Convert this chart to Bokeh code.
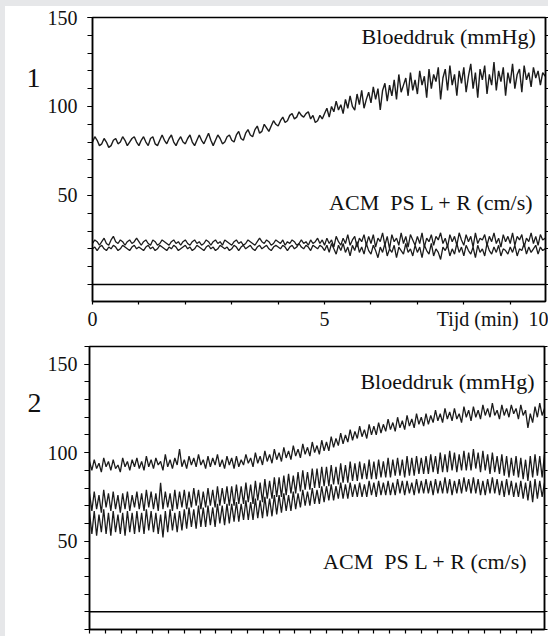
import numpy as np
from bokeh.plotting import figure
from bokeh.models import Range1d, FixedTicker, LinearAxis, Label, Span, Div
from bokeh.layouts import column, row
from bokeh.embed import file_html
from bokeh.resources import INLINE

STEP = 0.05  # minutes between samples

# ---------------- Panel 1 ----------------
bp1 = [
    80, 83, 81, 78, 79, 82, 80, 77, 78, 81, 82, 79, 80, 83, 81, 78, 80, 82, 83, 80,
    78, 81, 83, 80, 78, 82, 83, 79, 78, 81, 84, 81, 79, 82, 84, 80, 78, 81, 83, 80,
    79, 82, 84, 80, 78, 81, 84, 81, 79, 82, 85, 81, 78, 81, 84, 82, 79, 80, 83, 84,
    81, 80, 84, 86, 82, 81, 85, 87, 84, 83, 87, 89, 85, 86, 90, 88, 86, 89, 92, 90,
    89, 92, 94, 91, 92, 95, 96, 93, 94, 97, 95, 94, 96, 97, 93, 95, 91, 92, 95, 93,
    96, 99, 94, 100, 97, 103, 98, 101, 96, 104, 99, 106, 100, 98, 107, 101, 109, 99, 104, 108,
    102, 111, 104, 110, 98, 109, 113, 103, 112, 106, 115, 104, 118, 108, 112, 116, 106, 119, 109, 115,
    107, 120, 112, 117, 105, 121, 110, 118, 114, 122, 104, 116, 121, 109, 123, 112, 118, 106, 120, 113,
    122, 108, 117, 124, 110, 119, 105, 121, 115, 123, 107, 118, 112, 125, 109, 120, 114, 122, 106, 119,
    113, 124, 110, 118, 121, 108, 123, 115, 119, 111, 122, 116, 120, 112, 119, 117, 121, 118, 114, 116,
]
acm1_l = [
    23, 25, 24, 22, 24, 26, 23, 22, 25, 27, 24, 23, 25, 24, 22, 24, 25, 23, 24, 26,
    24, 22, 24, 25, 23, 22, 25, 24, 22, 23, 25, 24, 23, 22, 24, 25, 23, 24, 22, 24,
    25, 23, 22, 24, 25, 23, 24, 22, 23, 25, 24, 22, 24, 25, 23, 24, 22, 25, 24, 23,
    22, 24, 25, 23, 24, 22, 23, 25, 24, 23, 22, 24, 26, 24, 23, 25, 24, 22, 23, 25,
    24, 23, 25, 22, 24, 23, 25, 24, 22, 23, 25, 23, 24, 22, 25, 23, 24, 26, 23, 25,
    22, 26, 23, 25, 21, 27, 24, 22, 26, 23, 28, 22, 25, 27, 21, 26, 24, 28, 22, 27,
    23, 28, 21, 26, 24, 29, 22, 27, 20, 28, 24, 26, 22, 29, 23, 27, 21, 28, 25, 22,
    27, 23, 29, 21, 26, 24, 28, 22, 27, 25, 29, 23, 26, 21, 28, 24, 27, 22, 29, 25,
    22, 28, 24, 27, 21, 29, 23, 26, 25, 28, 22, 27, 24, 29, 23, 26, 21, 28, 24, 27,
    23, 29, 22, 27, 25, 28, 21, 26, 24, 29, 23, 27, 22, 28, 25, 26, 23, 28, 24, 26,
]
acm1_r = [
    20, 21, 19, 21, 22, 20, 19, 21, 20, 22, 21, 19, 20, 22, 21, 20, 19, 21, 22, 20,
    21, 20, 19, 21, 22, 20, 21, 19, 20, 22, 21, 20, 19, 21, 20, 22, 21, 19, 20, 21,
    22, 20, 21, 19, 20, 22, 21, 20, 19, 21, 22, 20, 21, 19, 20, 22, 21, 20, 21, 19,
    20, 22, 21, 19, 21, 22, 20, 21, 22, 20, 19, 21, 22, 20, 21, 22, 20, 19, 21, 22,
    21, 20, 22, 21, 19, 21, 22, 20, 21, 23, 21, 20, 22, 21, 19, 22, 21, 20, 22, 21,
    19, 22, 18, 23, 20, 17, 22, 19, 23, 18, 21, 16, 22, 19, 24, 18, 21, 17, 23, 19,
    17, 22, 19, 15, 21, 18, 23, 16, 20, 18, 22, 15, 21, 19, 17, 23, 18, 20, 16, 22,
    18, 21, 15, 22, 19, 17, 23, 16, 20, 18, 14, 21, 19, 22, 16, 20, 17, 23, 18, 21,
    16, 22, 19, 17, 21, 15, 22, 18, 20, 16, 23, 19, 17, 21, 18, 22, 16, 20, 19, 17,
    21, 18, 22, 16, 20, 19, 23, 17, 21, 18, 20, 22, 17, 21, 19, 20, 18, 22, 19, 20,
]

# ---------------- Panel 2 ----------------
bp2 = [
    95, 90, 96, 91, 94, 89, 97, 92, 95, 90, 96, 91, 93, 89, 97, 92, 95, 90, 96, 92,
    97, 91, 95, 90, 98, 92, 96, 91, 97, 93, 95, 90, 99, 92, 96, 91, 97, 93, 102, 92,
    96, 91, 98, 93, 97, 92, 99, 93, 96, 91, 98, 92, 97, 93, 99, 92, 96, 91, 98, 93,
    97, 91, 98, 92, 96, 93, 99, 94, 97, 92, 100, 94, 98, 93, 101, 95, 99, 94, 102, 96,
    100, 95, 103, 97, 101, 96, 104, 98, 102, 97, 105, 99, 103, 98, 106, 100, 104, 99, 107, 101,
    106, 101, 109, 103, 108, 104, 111, 105, 110, 106, 113, 107, 112, 108, 115, 109, 113, 108, 116, 110,
    115, 110, 117, 111, 116, 112, 119, 113, 117, 112, 120, 114, 118, 113, 121, 115, 119, 114, 122, 116,
    120, 115, 122, 116, 121, 117, 124, 118, 122, 117, 125, 119, 123, 118, 125, 119, 122, 117, 126, 120,
    124, 118, 126, 120, 124, 119, 127, 121, 125, 120, 128, 121, 124, 119, 127, 121, 125, 120, 127, 122,
    125, 119, 127, 121, 124, 114, 122, 117, 126, 120, 128, 121, 125, 119, 126, 120, 124, 118, 126, 121,
]
acm2_a = [
    77, 67, 78, 68, 76, 66, 79, 69, 77, 67, 78, 68, 76, 66, 77, 68, 78, 67, 76, 69,
    78, 68, 77, 67, 79, 69, 78, 68, 77, 67, 83, 68, 78, 69, 77, 67, 79, 68, 78, 69,
    79, 68, 78, 69, 80, 70, 79, 68, 78, 69, 80, 70, 79, 69, 81, 70, 80, 71, 81, 70,
    81, 70, 82, 71, 81, 71, 83, 72, 82, 71, 84, 73, 83, 72, 85, 74, 84, 74, 86, 75,
    86, 75, 87, 76, 88, 77, 87, 77, 89, 78, 90, 79, 89, 79, 91, 80, 91, 80, 92, 81,
    92, 81, 93, 82, 92, 82, 94, 83, 93, 83, 95, 84, 94, 84, 95, 85, 94, 85, 96, 85,
    95, 85, 96, 86, 95, 86, 97, 86, 96, 87, 97, 87, 96, 86, 98, 87, 97, 87, 98, 88,
    97, 88, 98, 88, 99, 89, 98, 88, 100, 89, 99, 89, 101, 90, 100, 89, 99, 90, 101, 90,
    100, 90, 102, 91, 100, 89, 101, 90, 99, 88, 100, 89, 98, 88, 99, 87, 98, 86, 97, 87,
    98, 86, 97, 85, 96, 84, 98, 86, 99, 87, 98, 86, 99, 87, 98, 86, 97, 86, 98, 87,
]
acm2_b = [
    66, 54, 67, 53, 65, 55, 68, 54, 66, 53, 67, 55, 65, 54, 66, 53, 67, 55, 66, 54,
    67, 55, 66, 54, 68, 56, 67, 55, 66, 54, 65, 52, 67, 55, 68, 56, 66, 55, 67, 56,
    68, 57, 69, 58, 68, 57, 70, 58, 69, 58, 70, 59, 69, 58, 71, 60, 70, 59, 71, 60,
    71, 61, 72, 61, 71, 62, 73, 62, 72, 62, 74, 63, 73, 63, 75, 64, 74, 64, 76, 65,
    76, 66, 77, 67, 76, 67, 78, 68, 77, 69, 79, 70, 78, 70, 80, 71, 79, 71, 81, 72,
    81, 73, 82, 73, 81, 74, 83, 74, 82, 74, 83, 75, 82, 75, 83, 75, 82, 75, 84, 76,
    83, 75, 84, 76, 83, 76, 84, 76, 83, 76, 85, 77, 84, 76, 84, 77, 83, 76, 85, 77,
    84, 77, 85, 77, 84, 76, 85, 77, 84, 77, 86, 77, 85, 76, 84, 77, 85, 77, 86, 78,
    85, 77, 86, 77, 85, 76, 84, 76, 85, 77, 86, 77, 85, 76, 84, 75, 85, 76, 84, 75,
    83, 75, 84, 74, 83, 73, 84, 72, 85, 74, 84, 75, 83, 74, 84, 75, 83, 74, 84, 75,
]

# axis settings / labels
X1_END = 9.76
X2_END = 9.6
Y1 = (-9.6, 150)
Y2 = (0, 160)
BASE1 = 0
BASE2 = 10
Y_LABELED = [50, 100, 150]
X1_LABELED = [0, 5, 8.3, 9.61]          # 8.3: axis title slot, 9.61: end label "10"
X1_TEXT = {8.3: "Tijd (min)", 9.61: "10"}
X1_MINOR = list(range(0, 10))
X2_MINOR = [k / 3 for k in range(29)]
Y1_MINOR = list(range(0, 151, 10))
Y2_MINOR = list(range(0, 161, 10))
TXT_BP = "Bloeddruk (mmHg)"
TXT_ACM = "ACM \u00a0PS L + R (cm/s)"

FONT = "Liberation Serif"
INK = "#1c1c1c"
PAGE_GREY = "#e6e7e9"
H1, H2 = 329, 301
SIDE_W = 39


def style_axis(ax, out, standoff=8, size="20px"):
    ax.axis_line_color = "black"
    ax.axis_line_width = 1.5
    ax.major_tick_line_color = "black"
    ax.minor_tick_line_color = "black"
    ax.major_tick_line_width = 1.2
    ax.minor_tick_line_width = 1.2
    ax.major_tick_out = out
    ax.major_tick_in = 0
    ax.minor_tick_out = out
    ax.minor_tick_in = 0
    ax.major_label_standoff = standoff
    ax.major_label_text_font = FONT
    ax.major_label_text_font_size = size
    ax.major_label_text_color = "#111111"


def make_fig(yr, xend, fw, fh, left, top, bottom):
    p = figure(frame_width=fw, frame_height=fh,
               x_range=Range1d(0, xend), y_range=Range1d(*yr),
               min_border_left=left, min_border_right=7,
               min_border_top=top, min_border_bottom=bottom,
               output_backend="svg", toolbar_location=None,
               background_fill_color="white", border_fill_color="white")
    p.grid.visible = False
    p.outline_line_color = "black"
    p.outline_line_width = 1.5
    return p


def side_fig(h, text, x, y_from_top):
    s = figure(width=SIDE_W, height=h, x_range=Range1d(0, SIDE_W), y_range=Range1d(0, h),
               x_axis_location=None, y_axis_location=None, min_border=0,
               output_backend="svg", toolbar_location=None,
               background_fill_color="white", border_fill_color="white")
    s.grid.visible = False
    s.outline_line_color = None
    s.add_layout(Label(x=x, y=h - y_from_top, text=text, text_font=FONT,
                       text_font_size="28px", text_align="center",
                       text_baseline="middle", text_color="#111111"))
    return s


def add_label(p, x, y, text, size="22px"):
    p.add_layout(Label(x=x, y=y, text=text, text_font=FONT, text_font_size=size,
                       text_align="right", text_baseline="middle", text_color="#111111"))


# ---- figure 1 ----
p1 = make_fig(Y1, X1_END, 453, 284, 44, 11, 34)
style_axis(p1.yaxis[0], 5, 10)
p1.yaxis[0].ticker = FixedTicker(ticks=Y_LABELED, minor_ticks=Y1_MINOR)
style_axis(p1.xaxis[0], 3, 3)
p1.xaxis[0].ticker = FixedTicker(ticks=X1_LABELED, minor_ticks=X1_MINOR)
p1.xaxis[0].major_tick_out = 0
p1.xaxis[0].major_label_overrides = X1_TEXT
r1 = LinearAxis(ticker=FixedTicker(ticks=[], minor_ticks=Y1_MINOR))
style_axis(r1, 3, 0)
p1.add_layout(r1, "right")

p1.add_layout(Span(location=BASE1, dimension="width", line_color="black", line_width=1.5))
p1.line(np.arange(len(bp1)) * STEP, bp1, line_color=INK, line_width=1.4)
p1.line(np.arange(len(acm1_l)) * STEP, acm1_l, line_color=INK, line_width=1.3)
p1.line(np.arange(len(acm1_r)) * STEP, acm1_r, line_color=INK, line_width=1.3)

add_label(p1, 9.55, 139.3, TXT_BP)
add_label(p1, 9.50, 46, TXT_ACM)

# ---- figure 2 ----
p2 = make_fig(Y2, X2_END, 455, 283, 42, 11, 7)
style_axis(p2.yaxis[0], 5, 7)
p2.yaxis[0].ticker = FixedTicker(ticks=Y_LABELED, minor_ticks=Y2_MINOR)
style_axis(p2.xaxis[0], 4, 0)
p2.xaxis[0].ticker = FixedTicker(ticks=[], minor_ticks=X2_MINOR)
r2 = LinearAxis(ticker=FixedTicker(ticks=[], minor_ticks=Y2_MINOR))
style_axis(r2, 3, 0)
p2.add_layout(r2, "right")

p2.add_layout(Span(location=BASE2, dimension="width", line_color="black", line_width=1.5))
p2.line(np.arange(len(bp2)) * STEP, bp2, line_color=INK, line_width=1.3)
p2.line(np.arange(len(acm2_a)) * STEP, acm2_a, line_color=INK, line_width=1.3)
p2.line(np.arange(len(acm2_b)) * STEP, acm2_b, line_color=INK, line_width=1.3)

add_label(p2, 9.39, 140.2, TXT_BP)
add_label(p2, 9.24, 38.5, TXT_ACM)

s1 = side_fig(H1, "1", 28, 70)
s2 = side_fig(H2, "2", 29, 60)

top_band = Div(text="", width=548, height=6, margin=0,
               styles={"background-color": PAGE_GREY})
left_band = Div(text="", width=5, height=H1 + H2, margin=0,
                styles={"background-color": PAGE_GREY})

panels = column(row(s1, p1, spacing=0), row(s2, p2, spacing=0), spacing=0)
layout = column(top_band, row(left_band, panels, spacing=0), spacing=0)
open("out.html", "w").write(file_html(layout, INLINE))
